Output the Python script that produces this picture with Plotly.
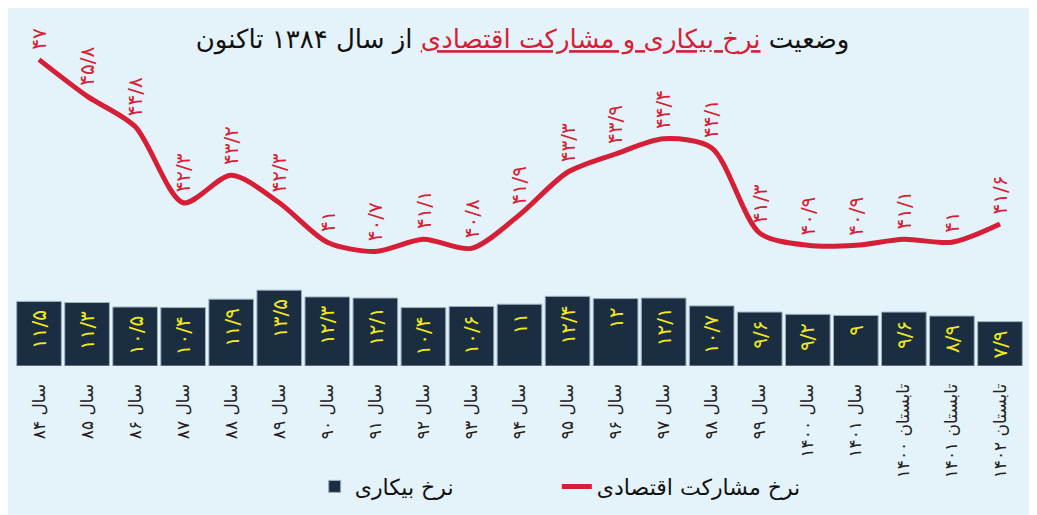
import plotly.graph_objects as go

categories = ["سال ۸۴", "سال ۸۵", "سال ۸۶", "سال ۸۷", "سال ۸۸", "سال ۸۹", "سال ۹۰",
              "سال ۹۱", "سال ۹۲", "سال ۹۳", "سال ۹۴", "سال ۹۵", "سال ۹۶", "سال ۹۷",
              "سال ۹۸", "سال ۹۹", "سال ۱۴۰۰", "سال ۱۴۰۱", "تابستان ۱۴۰۰",
              "تابستان ۱۴۰۱", "تابستان ۱۴۰۲"]
participation = [47, 45.8, 44.8, 42.3, 43.2, 42.3, 41, 40.7, 41.1, 40.8, 41.9,
                 43.3, 43.9, 44.4, 44.1, 41.3, 40.9, 40.9, 41.1, 41, 41.6]
unemployment = [11.5, 11.3, 10.5, 10.4, 11.9, 13.5, 12.3, 12.1, 10.4, 10.6, 11,
                12.4, 12, 12.1, 10.7, 9.6, 9.2, 9, 9.6, 8.9, 7.9]

series_names = ["نرخ بیکاری", "نرخ مشارکت اقتصادی"]
title_parts = ["وضعیت ", "نرخ بیکاری و مشارکت اقتصادی", " از سال ۱۳۸۴ تاکنون"]

RED = "#D61F36"
NAVY = "#1B2D40"
YELLOW = "#F3E81A"
BG = "#E4F2F9"
FONT = "DejaVu Sans"

PDIG = str.maketrans("0123456789.", "۰۱۲۳۴۵۶۷۸۹/")


def fa(v):
    s = str(int(v)) if float(v).is_integer() else str(v)
    return s.translate(PDIG)


x_idx = list(range(len(categories)))

# page body has an 8px default margin; figure is sized so it fills the window
W, H = 1029, 507

fig = go.Figure()
fig.add_trace(go.Bar(
    x=x_idx, y=unemployment, name=series_names[0],
    marker=dict(color=NAVY, line=dict(color="#9DB0BE", width=1)),
    width=0.93, yaxis="y", hoverinfo="skip", legend="legend",
))
fig.add_trace(go.Scatter(
    x=x_idx, y=participation, name=series_names[1], mode="lines",
    line=dict(color=RED, width=5, shape="spline", smoothing=0.8),
    yaxis="y2", hoverinfo="skip", legend="legend2",
))

annotations = []
for i, v in enumerate(participation):
    annotations.append(dict(
        x=i, y=v, xref="x", yref="y2", text=fa(v), showarrow=False,
        textangle=-90, yanchor="bottom", xanchor="center", yshift=8,
        font=dict(family=FONT, size=20, color=RED),
    ))
for i, v in enumerate(unemployment):
    annotations.append(dict(
        x=i, y=v, xref="x", yref="y", text=fa(v), showarrow=False,
        textangle=-90, yanchor="top", xanchor="center", yshift=-7,
        font=dict(family=FONT, size=20, color=YELLOW),
    ))

title_text = (title_parts[0]
              + "<span style='color:%s'><u>%s</u></span>" % (RED, title_parts[1])
              + title_parts[2])

legend_common = dict(orientation="h", xanchor="left", y=-0.37,
                     yanchor="middle", bgcolor="rgba(0,0,0,0)", itemwidth=30,
                     font=dict(family=FONT, size=22, color="#111"))

fig.update_layout(
    width=W, height=H,
    margin=dict(l=7, r=13, t=32, b=143),
    paper_bgcolor=BG, plot_bgcolor=BG,
    font=dict(family=FONT, color="#1a1a1a"),
    title=dict(text=title_text, x=0.5, xanchor="center", y=1 - 31 / H,
               yanchor="middle", yref="container",
               font=dict(family=FONT, size=26, color="#111")),
    xaxis=dict(
        range=[-0.5, len(categories) - 0.5],
        tickmode="array", tickvals=x_idx, ticktext=categories,
        tickangle=-90, showgrid=False, zeroline=False, showline=False,
        ticks="outside", ticklen=10, tickcolor="rgba(0,0,0,0)",
        tickfont=dict(family=FONT, size=17, color="#222"),
    ),
    yaxis=dict(range=[0, 58.04], visible=False, showgrid=False),
    yaxis2=dict(range=[36.935, 47.645], overlaying="y", visible=False,
                showgrid=False),
    bargap=0.07,
    showlegend=True,
    legend=dict(x=0.297, **legend_common),
    legend2=dict(x=0.537, **legend_common),
    annotations=annotations,
)

fig.write_html("out.html")
